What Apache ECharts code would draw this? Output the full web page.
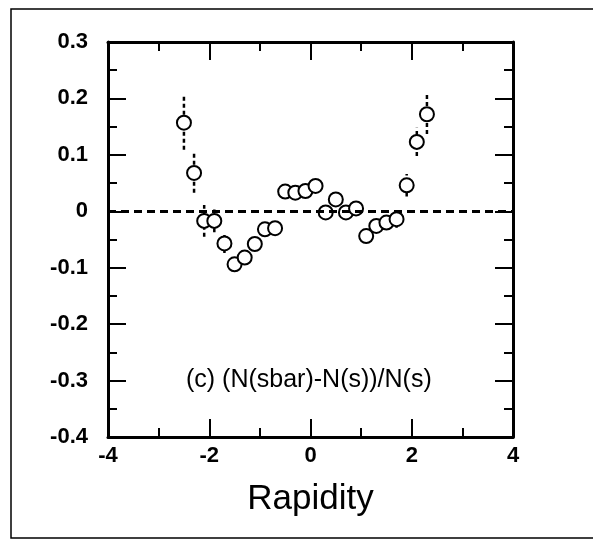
<!DOCTYPE html>
<html>
<head>
<meta charset="utf-8">
<script src="https://cdn.jsdelivr.net/npm/echarts@6/dist/echarts.min.js"></script>
<style>
  html, body { margin: 0; padding: 0; background: #fff; }
  #chart { width: 593px; height: 539px; }
</style>
</head>
<body>
<div id="chart"></div>
<script>
// rapidity bins and asymmetry (N(sbar)-N(s))/N(s)
const rapidity = [-2.5, -2.3, -2.1, -1.9, -1.7, -1.5, -1.3, -1.1, -0.9, -0.7, -0.5, -0.3, -0.1,
  0.1, 0.3, 0.5, 0.7, 0.9, 1.1, 1.3, 1.5, 1.7, 1.9, 2.1, 2.3];
const asym = [0.157, 0.068, -0.017, -0.017, -0.057, -0.094, -0.082, -0.058, -0.032, -0.030, 0.035, 0.033, 0.036,
  0.045, -0.002, 0.021, -0.002, 0.005, -0.044, -0.026, -0.020, -0.014, 0.046, 0.123, 0.172];
const err = [0.048, 0.035, 0.028, 0.020, 0.017, 0.012, 0.012, 0.012, 0.010, 0.010, 0.008, 0.008, 0.008,
  0.008, 0.008, 0.008, 0.008, 0.008, 0.010, 0.010, 0.012, 0.015, 0.020, 0.025, 0.035];
const xTicks = [-4, -2, 0, 2, 4];
const yTicks = [-0.4, -0.3, -0.2, -0.1, 0, 0.1, 0.2, 0.3];

const points = rapidity.map((x, i) => [x, asym[i]]);
const bars = rapidity.map((x, i) => [x, asym[i] - err[i], asym[i] + err[i]]);

const font = "'Liberation Sans', Arial, sans-serif";
const yFmt = v => Math.abs(v) < 1e-9 ? "0" : v.toFixed(1);

const axisCommon = {
  axisLine: { onZero: false, lineStyle: { color: "#000", width: 3 } },
  axisTick: { inside: true, length: 18, lineStyle: { color: "#000", width: 2 } },
  minorTick: { show: true, splitNumber: 2, length: 9, lineStyle: { color: "#000", width: 2 } },
  splitLine: { show: false },
};

const option = {
  animation: false,
  backgroundColor: "#fff",
  grid: { left: 108, right: 80, top: 42, bottom: 102 },
  xAxis: [
    {
      type: "value", min: xTicks[0], max: xTicks[xTicks.length - 1], interval: 2,
      position: "bottom",
      ...axisCommon,
      axisLabel: { color: "#000", fontSize: 22, fontWeight: "bold", fontFamily: font, margin: 8 },
      name: "Rapidity", nameLocation: "middle", nameGap: 45,
      nameTextStyle: { color: "#000", fontSize: 35, fontFamily: font },
    },
    {
      type: "value", min: xTicks[0], max: xTicks[xTicks.length - 1], interval: 2,
      position: "top",
      ...axisCommon,
      axisLabel: { show: false },
    },
  ],
  yAxis: [
    {
      type: "value", min: yTicks[0], max: yTicks[yTicks.length - 1], interval: 0.1,
      position: "left",
      ...axisCommon,
      axisLabel: { color: "#000", fontSize: 22, fontWeight: "bold", fontFamily: font, margin: 20, formatter: yFmt },
    },
    {
      type: "value", min: yTicks[0], max: yTicks[yTicks.length - 1], interval: 0.1,
      position: "right",
      ...axisCommon,
      axisLabel: { show: false },
    },
  ],
  graphic: [
    {
      type: "rect", silent: true, z: -1,
      shape: { x: 11, y: 9, width: 620, height: 529 },
      style: { fill: null, stroke: "#000", lineWidth: 1.5 },
    },
    {
      type: "text", left: 186, top: 368,
      style: { text: "(c) (N(sbar)-N(s))/N(s)", fill: "#000", fontSize: 25, fontFamily: font },
    },
  ],
  series: [
    {
      // error bars (dashed)
      type: "custom",
      data: bars,
      renderItem: (params, api) => {
        const lo = api.coord([api.value(0), api.value(1)]);
        const hi = api.coord([api.value(0), api.value(2)]);
        return {
          type: "line",
          shape: { x1: lo[0], y1: lo[1], x2: hi[0], y2: hi[1] },
          style: { stroke: "#000", lineWidth: 2.5, lineDash: [4, 3] },
        };
      },
      z: 2,
    },
    {
      type: "scatter",
      data: points,
      symbol: "circle",
      symbolSize: 14,
      itemStyle: { color: "#fff", borderColor: "#000", borderWidth: 2, opacity: 1 },
      z: 3,
      markLine: {
        silent: true,
        symbol: "none",
        label: { show: false },
        lineStyle: { color: "#000", width: 3, type: [8, 5], opacity: 1 },
        data: [{ yAxis: 0 }],
      },
    },
  ],
};

const myChart = echarts.init(document.getElementById("chart"));
myChart.setOption(option);
</script>
</body>
</html>
